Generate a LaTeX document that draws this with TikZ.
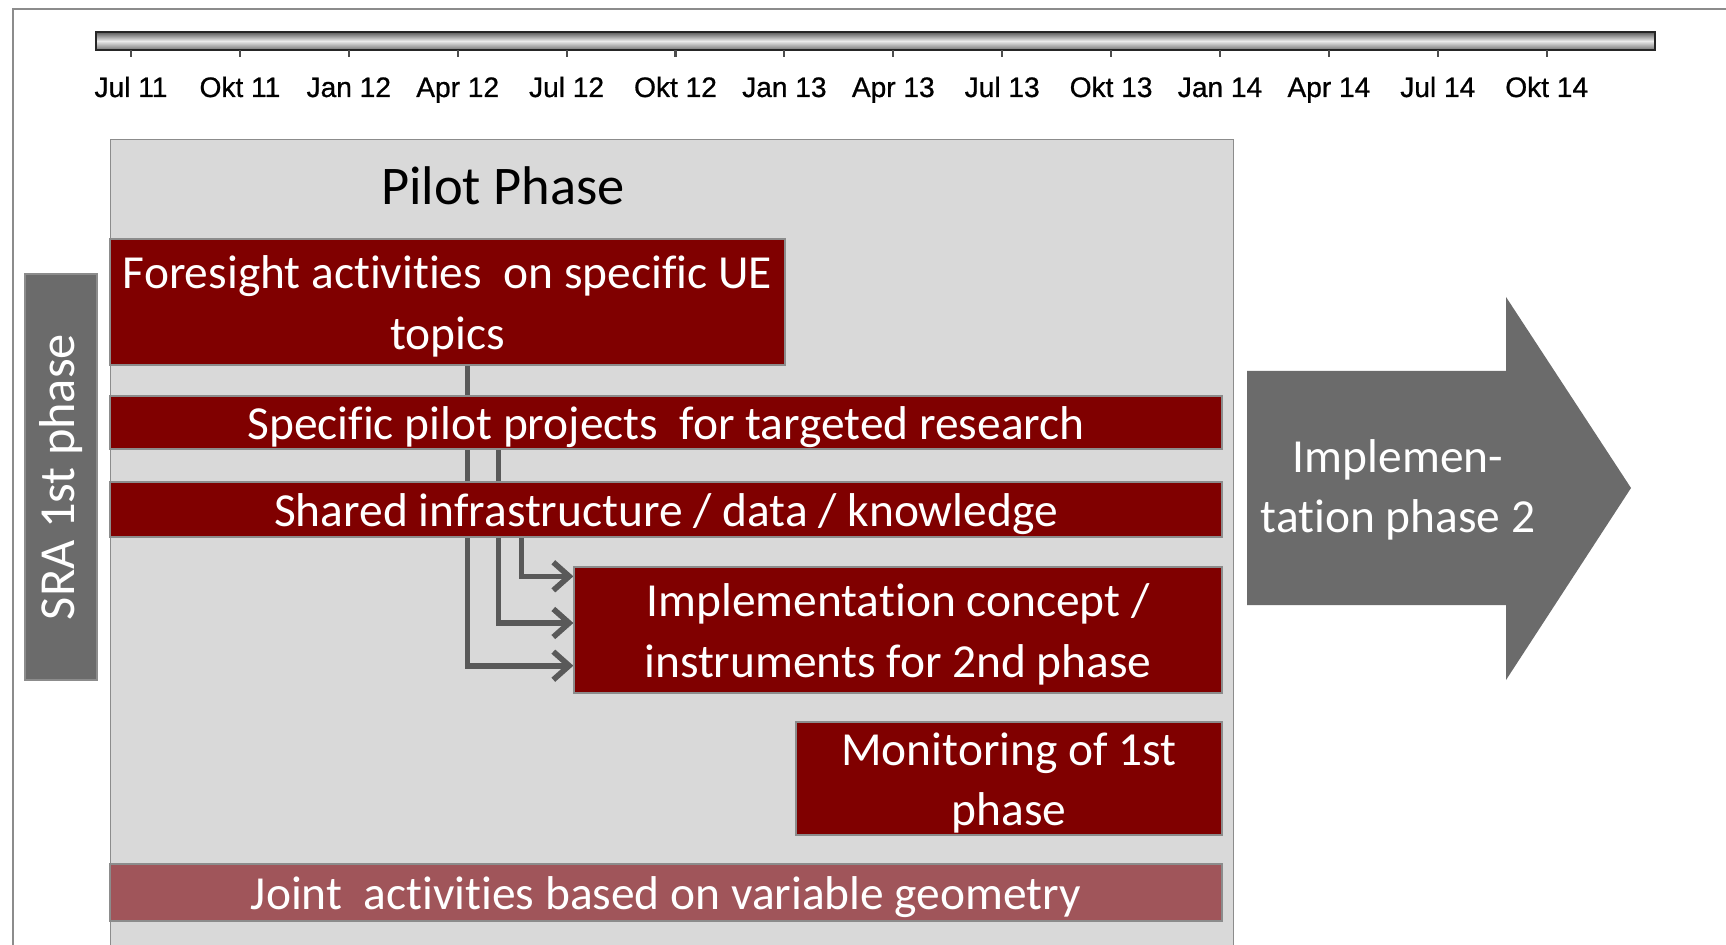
\documentclass[tikz,border=0pt]{standalone}
\usepackage{fontspec}
\setmainfont{Carlito}[Ligatures=NoCommon]
\newfontfamily\axisfont{Liberation Sans}[FakeBold=0.8]
\usetikzlibrary{arrows.meta,calc}
\definecolor{boxred}{HTML}{800000}
\definecolor{jointred}{HTML}{A0555A}
\definecolor{panelgray}{HTML}{D9D9D9}
\definecolor{sragray}{HTML}{6B6B6B}
\definecolor{linegray}{HTML}{595959}
\definecolor{edgegray}{HTML}{8C8C8C}
\newcommand\padtop{\rule{0pt}{23.5pt}}
\pgfdeclarelayer{bg}
\pgfdeclarelayer{links}
\pgfsetlayers{bg,links,main}
\tikzset{
  boxfont/.style={font=\fontsize{27}{34.4}\selectfont},
  redbox/.style={boxfont, fill=boxred, draw=edgegray, line width=0.8pt, text=white, inner sep=0pt, align=center},
  jointbox/.style={redbox, fill=jointred},
  graybox/.style={font=\fontsize{28.7}{34.4}\selectfont, fill=sragray, draw=edgegray, line width=0.8pt, text=white, inner sep=0pt, align=center},
  panel/.style={fill=panelgray, draw=edgegray, line width=0.6pt, inner sep=0pt},
  conn/.style={draw=linegray, line width=3.2pt, -{Straight Barb[length=9pt, width=16pt, line width=3.2pt]}},
  tick/.style={draw=black!70, line width=1.2pt},
  datelabel/.style={font=\axisfont\fontsize{16}{18}\selectfont, inner sep=0pt, anchor=base}
}
\begin{document}
\begin{tikzpicture}[x=0.02cm, y=-0.02cm]
      \useasboundingbox (0,0) rectangle (1726,945);
      \draw[edgegray, line width=1.2pt] (13,945) -- (13,9) -- (1726,9);

      \shade[top color=black!65, bottom color=black!55, middle color=black!8] (96,32) rectangle (1655,50);
      \draw[black!85, line width=0.8pt] (96,32) rectangle (1655,50);
      \foreach \lab [count=\i from 0] in {Jul 11, Okt 11, Jan 12, Apr 12, Jul 12, Okt 12, Jan 13, Apr 13, Jul 13, Okt 13, Jan 14, Apr 14, Jul 14, Okt 14}{
        \draw[tick] (131+\i*108.9,50) -- (131+\i*108.9,57);
        \node[datelabel] (d\i) at (131+\i*108.9,97) {\lab};
      }

      \begin{pgfonlayer}{bg}
        \node[panel, minimum width=22.48cm, minimum height=16.22cm] (pilot) at (672,544.5){};
      \end{pgfonlayer}
      \node[font=\fontsize{31}{36}\selectfont] (pilottitle) at (503,186) {Pilot Phase};

      \node[graybox, rotate=90, minimum width=8.12cm, minimum height=1.44cm] (sra) at (61,477) {SRA 1st phase};

      \node[redbox, minimum width=13.5cm, minimum height=2.52cm] (foresight) at (447.5,302) {\padtop Foresight activities\ \ on specific UE\\topics};
      \node[redbox, minimum width=22.24cm, minimum height=1.06cm] (pilotproj) at (666,422.5) {\padtop Specific pilot projects\ \ for targeted research};
      \node[redbox, minimum width=22.24cm, minimum height=1.1cm] (shared) at (666,509.5) {\padtop Shared infrastructure / data / knowledge};
      \node[redbox, minimum width=12.96cm, minimum height=2.52cm] (impl) at (898,630) {\padtop Implementation concept /\\instruments for 2nd phase};
      \node[redbox, minimum width=8.52cm, minimum height=2.26cm] (monitor) at (1009,778.5) {\padtop Monitoring of 1st\\phase};
      \node[jointbox, minimum width=22.24cm, minimum height=1.14cm] (joint) at (666,892.5) {\padtop Joint\ \ activities based on variable geometry};

      \begin{pgfonlayer}{links}
        \draw[conn] ($(foresight.south west)+(358,0)$) |- ($(impl.south west)+(0,-28)$);
        \draw[conn] ($(pilotproj.south west)+(389,0)$) |- ($(impl.west)+(0,-7)$);
        \draw[conn] ($(shared.south west)+(412,0)$) |- ($(impl.north west)+(0,10)$);
      \end{pgfonlayer}

      \fill[sragray] (1247,371) -- (1506,371) -- (1506,297) -- (1631,488) -- (1506,680) -- (1506,605) -- (1247,605) -- cycle;
      \node[boxfont, text=white, align=center] (phase2) at (1398,490) {Implemen-\\tation phase 2};

    \end{tikzpicture}
\end{document}
